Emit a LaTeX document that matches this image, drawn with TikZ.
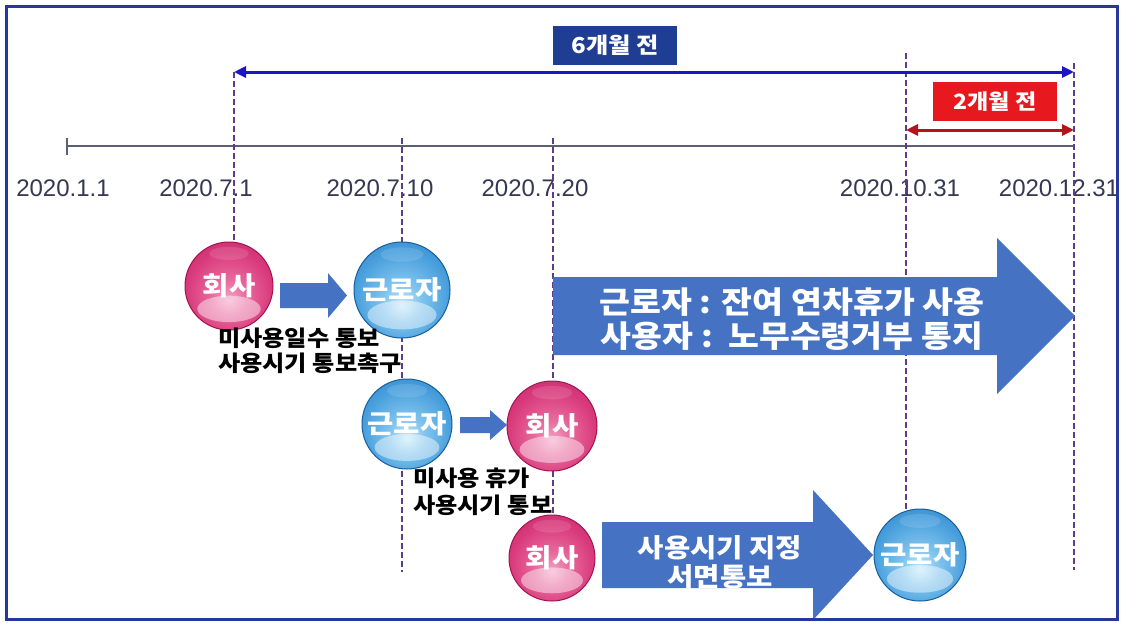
\documentclass[tikz,border=0pt]{standalone}
\usepackage{fontspec}
\setmainfont{Liberation Sans}
\newfontfamily\kr[FakeStretch=1.1]{Noto Sans CJK KR}
\usetikzlibrary{arrows.meta,calc}
\definecolor{frameblue}{HTML}{26399A}
\definecolor{boxblue}{HTML}{1F3D93}
\definecolor{boxred}{HTML}{E8191E}
\definecolor{lineblue}{HTML}{1C14C8}
\definecolor{linered}{HTML}{B5121B}
\definecolor{axisgray}{HTML}{5C6075}
\definecolor{datecol}{HTML}{353852}
\definecolor{dashpurple}{HTML}{5E3B8C}
\definecolor{arrblue}{HTML}{4672C4}
\definecolor{pkA}{HTML}{F2A3C4}
\definecolor{pkB}{HTML}{E8699D}
\definecolor{pkC}{HTML}{D93A7C}
\definecolor{pkD}{HTML}{C42468}
\definecolor{pkE}{HTML}{A3134F}
\definecolor{blA}{HTML}{C6E8FA}
\definecolor{blB}{HTML}{80C4EE}
\definecolor{blC}{HTML}{4AA0DD}
\definecolor{blD}{HTML}{2A7FC3}
\definecolor{blE}{HTML}{175E9E}
\pgfdeclareradialshading{pinksph}{\pgfpoint{0bp}{-8bp}}{color(0bp)=(pkA); color(10bp)=(pkB); color(24bp)=(pkC); color(38bp)=(pkD); color(48bp)=(pkE); color(50bp)=(pkE)}
\pgfdeclareradialshading{bluesph}{\pgfpoint{0bp}{-8bp}}{color(0bp)=(blA); color(10bp)=(blB); color(24bp)=(blC); color(38bp)=(blD); color(48bp)=(blE); color(50bp)=(blE)}
\tikzset{
  sph/.style n args={3}{circle, inner sep=0pt, minimum size={2*#1pt}, shade, shading=#2,
    draw=#3, line width=1pt, text=white, font=\kr\bfseries\fontsize{26}{26}\selectfont,
    path picture={
      \fill[white,opacity=.45] ($(path picture bounding box.center)+(0,{0.52*#1})$) ellipse [x radius={0.72*#1}, y radius={0.3*#1}];
      \fill[white,opacity=.12] ($(path picture bounding box.center)+(0,{-0.74*#1})$) ellipse [x radius={0.45*#1}, y radius={0.15*#1}];
    }},
  pinkball/.style={sph={#1}{pinksph}{pkE}},
  blueball/.style={sph={#1}{bluesph}{blE}},
  datelbl/.style={text=datecol, font=\fontsize{24}{24}\selectfont, inner sep=0pt},
  vdash/.style={draw=dashpurple, line width=1.5pt, dash pattern=on 6pt off 3pt},
  lblbox/.style={inner sep=0pt, minimum width=124pt, minimum height=39pt, text=white, font=\kr\bfseries\fontsize{22}{22}\selectfont},
  blacklbl/.style={inner sep=0pt, align=left, text=black, font=\kr\bfseries\fontsize{22}{25}\selectfont},
  arrtxt/.style={inner sep=0pt, align=center, text=white},
}
\begin{document}
\begin{tikzpicture}[x=1pt,y=-1pt]
\useasboundingbox (0,0) rectangle (1125,622);
\fill[white] (0,0) rectangle (1125,622);

% top labels
\node[lblbox, fill=boxblue] (box6) at (615,45.5) {6개월 전};
\node[lblbox, fill=boxred, font=\kr\bfseries\fontsize{21}{21}\selectfont] (box2) at (995,101.5) {2개월 전};

% named coordinates
\coordinate (b1) at (234,72);
\coordinate (b2) at (1074,72);
\coordinate (r1) at (906,130);
\coordinate (r2) at (1074,130);
\coordinate (t0) at (67,146);
\coordinate (t1) at (1074,146);

% dates
\node[datelbl] (d1) at (63,188) {2020.1.1};
\node[datelbl] (d2) at (206,188) {2020.7.1};
\node[datelbl] (d3) at (380,188) {2020.7.10};
\node[datelbl] (d4) at (535,188) {2020.7.20};
\node[datelbl] (d5) at (900,188) {2020.10.31};
\node[datelbl] (d6) at (1059,188) {2020.12.31};

% timeline
\draw[axisgray, line width=1.5pt] (t0) -- (t1);
\draw[axisgray, line width=1.5pt] ($(t0)+(0,-8)$) -- ($(t0)+(0,9)$);

% dashed verticals
\coordinate (v1a) at (234,72);   \coordinate (v1b) at (234,246);
\coordinate (v2a) at (402,138);  \coordinate (v2b) at (402,572);
\coordinate (v3a) at (553,138);  \coordinate (v3b) at (553,520);
\coordinate (v4a) at (906,53);   \coordinate (v4b) at (906,515);
\coordinate (v5a) at (1074,63);  \coordinate (v5b) at (1074,570);
\draw[vdash] (v1a) -- (v1b);
\draw[vdash] (v2a) -- (v2b);
\draw[vdash] (v3a) -- (v3b);
\draw[vdash] (v4a) -- (v4b);
\draw[vdash] (v5a) -- (v5b);

% range arrows
\draw[lineblue, line width=3pt, {Triangle[length=12pt,width=11pt]}-{Triangle[length=12pt,width=11pt]}] (b1) -- (b2);
\draw[linered, line width=3pt, {Triangle[length=12pt,width=11pt]}-{Triangle[length=12pt,width=11pt]}] (r1) -- (r2);

% block arrows
\fill[arrblue] (280,283) -- (328,283) -- (328,273) -- (347,295.5) -- (328,318) -- (328,308) -- (280,308) -- cycle;
\fill[arrblue] (460,417) -- (490,417) -- (490,410) -- (507,425) -- (490,440) -- (490,433) -- (460,433) -- cycle;
\fill[arrblue] (553,277) -- (997,277) -- (997,238) -- (1075,316) -- (997,394) -- (997,355) -- (553,355) -- cycle;
\fill[arrblue] (602,522) -- (813,522) -- (813,490) -- (873,555) -- (813,620) -- (813,588) -- (602,588) -- cycle;

\node[arrtxt, font=\kr\bfseries\fontsize{30.5}{34}\selectfont] (bigtxt) at (792,319) {근로자 : 잔여 연차휴가 사용\\사용자 :\ \ 노무수령거부 통지};
\node[arrtxt, font=\kr\bfseries\fontsize{26}{29}\selectfont] (bottxt) at (720,562) {사용시기 지정\\서면통보};

% balls
\node[pinkball=44] (c1) at (229,286) {회사};
\node[blueball=48, font=\kr\bfseries\fontsize{26}{26}\selectfont] (w1) at (402,290) {근로자};
\node[blueball=45, font=\kr\bfseries\fontsize{26}{26}\selectfont] (w2) at (407,424) {근로자};
\node[pinkball=45] (c2) at (552,426) {회사};
\node[pinkball=43] (c3) at (552,558) {회사};
\node[blueball=46, font=\kr\bfseries\fontsize{26}{26}\selectfont] (w3) at (920,555) {근로자};

% black labels
\node[blacklbl, anchor=west] (lab1) at (218,350.5) {미사용일수 통보\\사용시기 통보촉구};
\node[blacklbl, anchor=west, font=\kr\bfseries\fontsize{22}{27}\selectfont] (lab2) at (413,491.5) {미사용 휴가\\사용시기 통보};

% frame
\draw[frameblue, line width=3pt] (6,6) rectangle (1117,619);
\end{tikzpicture}
\end{document}
